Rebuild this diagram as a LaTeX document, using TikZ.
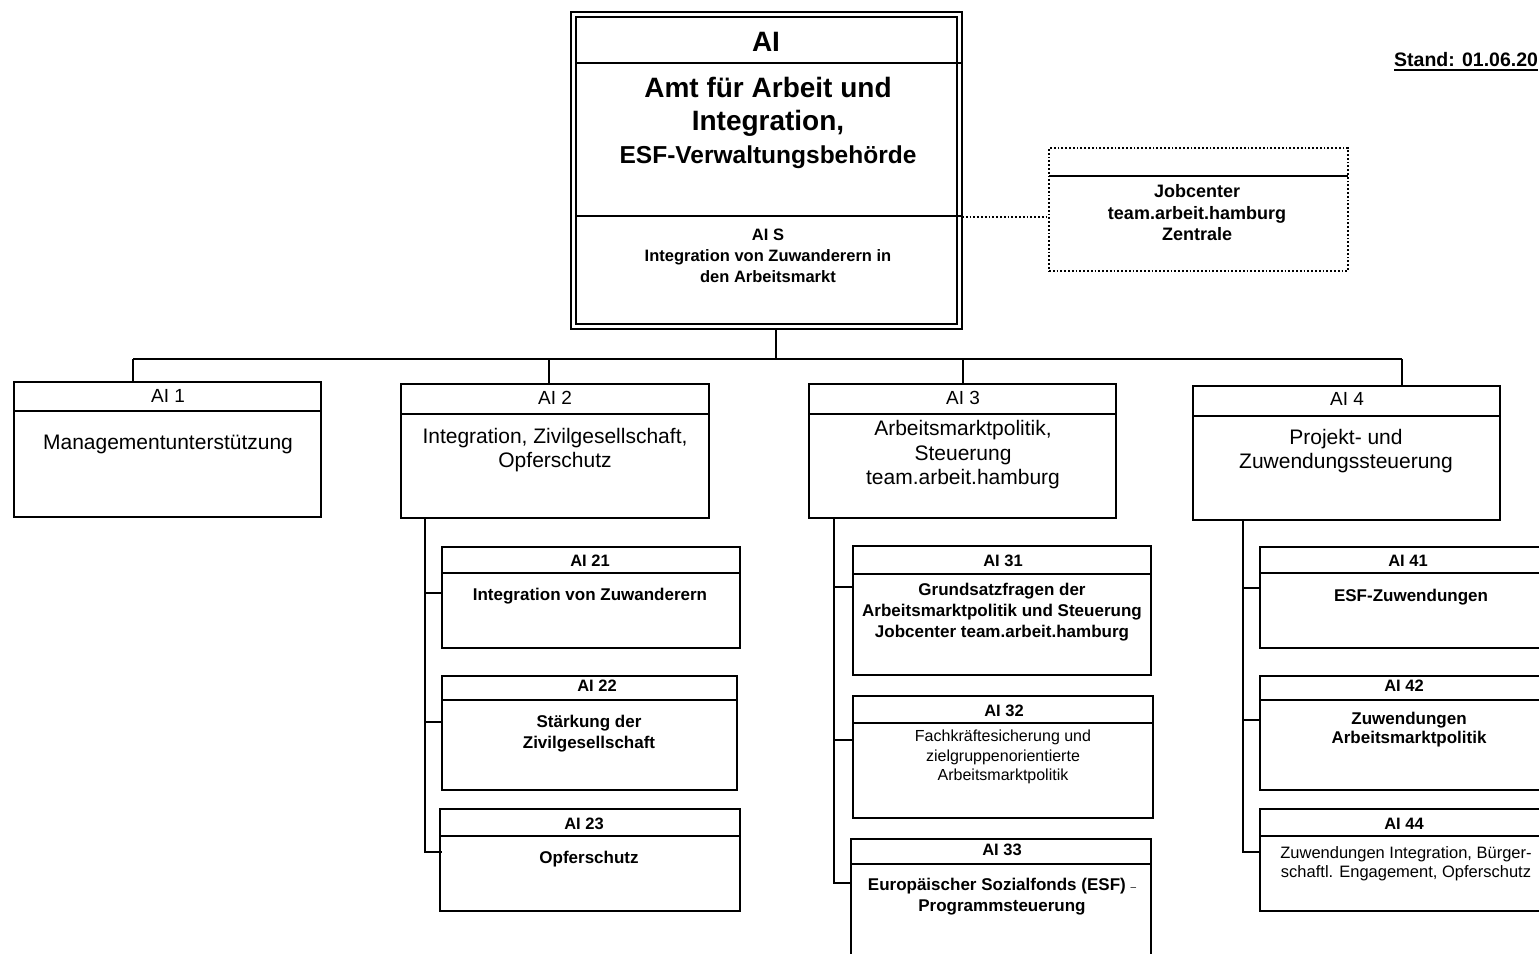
\documentclass[tikz,border=0pt]{standalone}
\usepackage{fontspec}
\setmainfont{Liberation Sans}
\newcommand{\orgbox}[6]{%
  \node[obox, minimum width=#4pt, minimum height=#5pt] (#1) at (#2,#3) {};
  \draw[sepline] ([yshift=-#6pt]#1.north west) -- ([yshift=-#6pt]#1.north east);
}
\tikzset{
  obox/.style={draw, rectangle, line width=1.6pt, inner sep=0pt, outer sep=0pt, anchor=north west},
  sepline/.style={line width=1.4pt},
  conn/.style={line width=1.6pt},
  dotc/.style={line width=1.8pt, dotted},
  hone/.style={font=\fontsize{19}{22}\selectfont, inner sep=0pt},
  bone/.style={font=\fontsize{21}{24.5}\selectfont, align=center, inner sep=0pt},
  htwo/.style={font=\bfseries\fontsize{16.5}{20}\selectfont, inner sep=0pt},
  btwo/.style={font=\bfseries\fontsize{17}{21}\selectfont, align=center, inner sep=0pt},
  btwor/.style={font=\fontsize{16}{19.5}\selectfont, align=center, inner sep=0pt},
}
\begin{document}
\begin{tikzpicture}[x=1pt, y=-1pt]
\useasboundingbox (0,0) rectangle (1539,953);
\fill[white] (0,0) rectangle (1539,953);
\clip (0,0) rectangle (1539,953);

% ---- main box
\node[draw, line width=2.2pt, minimum width=391pt, minimum height=317pt, anchor=north west, inner sep=0pt, outer sep=0pt] (ai) at (571,12) {};
\node[draw, line width=2pt, minimum width=381pt, minimum height=307pt, anchor=north west, inner sep=0pt, outer sep=0pt] (aiin) at (576,17) {};
\draw[sepline] ([yshift=-46pt]aiin.north west) -- ([yshift=-51pt]ai.north east);
\draw[sepline] ([yshift=-199pt]aiin.north west) -- ([yshift=-204pt]ai.north east);
\node[font=\bfseries\fontsize{28}{33}\selectfont, inner sep=0pt] (aititle) at (766,42) {AI};
\node[font=\bfseries\fontsize{28}{33}\selectfont, align=center, inner sep=0pt] (aibody) at (768,123)
  {Amt für Arbeit und\\Integration,\\{\fontsize{24.5}{33}\selectfont ESF-Verwaltungsbehörde}};
\node[font=\bfseries\fontsize{16.5}{21}\selectfont, align=center, inner sep=0pt] (ais) at (768,256)
  {AI S\\Integration von Zuwanderern in\\den Arbeitsmarkt};

% ---- Jobcenter
\node[draw, dotc, minimum width=299pt, minimum height=123pt, anchor=north west, inner sep=0pt, outer sep=0pt] (jc) at (1049,148) {};
\draw[sepline] ([yshift=-28pt]jc.north west) -- ([yshift=-28pt]jc.north east);
\node[font=\bfseries\fontsize{18}{21.5}\selectfont, align=center, inner sep=0pt] (jct) at (1197,213)
  {Jobcenter\\team.arbeit.hamburg\\Zentrale};
\draw[dotc] ([yshift=-205pt]ai.north east) -- ([yshift=-69pt]jc.north west);

% ---- Stand
\node[font=\bfseries\fontsize{19.5}{22}\selectfont, anchor=west, inner sep=0pt] (stand) at (1394,60) {Stand: 01.06.20};
\draw[line width=1.5pt] ([yshift=-3pt]stand.base west) -- ([yshift=-3pt]stand.base east);

% ---- level 1 boxes
\orgbox{ai1}{14}{382}{307}{135}{29}
\orgbox{ai2}{401}{384}{308}{134}{30}
\orgbox{ai3}{809}{384}{307}{134}{30}
\orgbox{ai4}{1193}{386}{307}{134}{30}
\node[hone] (ai1t) at (168,396) {AI 1};
\node[bone] (ai1b) at (168,444) {Managementunterstützung};
\node[hone] (ai2t) at (555,398) {AI 2};
\node[bone] (ai2b) at (555,450) {Integration, Zivilgesellschaft,\\Opferschutz};
\node[hone] (ai3t) at (963,398) {AI 3};
\node[bone] (ai3b) at (963,455) {Arbeitsmarktpolitik,\\Steuerung\\team.arbeit.hamburg};
\node[hone] (ai4t) at (1347,399) {AI 4};
\node[bone] (ai4b) at (1346,451) {Projekt- und\\Zuwendungssteuerung};

% ---- bus
\coordinate (top) at (776,359);
\coordinate (d1) at (133,359);
\coordinate (d2) at (549,359);
\coordinate (d3) at (963,359);
\coordinate (d4) at (1402,359);
\draw[conn] ([xshift=9.5pt]ai.south) -- (top);
\draw[conn] (d1) -- (d4);
\draw[conn] (d1) -- (d1 |- ai1.north);
\draw[conn] (d2) -- (d2 |- ai2.north);
\draw[conn] (d3) -- (d3 |- ai3.north);
\draw[conn] (d4) -- (d4 |- ai4.north);

% ---- level 2 boxes
\orgbox{ai21}{442}{547}{298}{101}{26}
\orgbox{ai22}{442}{676}{295}{114}{24}
\orgbox{ai23}{440}{809}{300}{102}{27}
\orgbox{ai31}{853}{546}{298}{129}{28}
\orgbox{ai32}{853}{696}{300}{122}{27}
\orgbox{ai33}{851}{839}{300}{130}{25}
\orgbox{ai41}{1260}{547}{300}{101}{26}
\orgbox{ai42}{1260}{676}{300}{114}{24}
\orgbox{ai44}{1260}{809}{300}{102}{27}

\node[htwo] (ai21t) at (590,561) {AI 21};
\node[btwo] (ai21b) at (590,596) {Integration von Zuwanderern};
\node[htwo] (ai22t) at (597,686) {AI 22};
\node[btwo] (ai22b) at (589,734) {Stärkung der\\Zivilgesellschaft};
\node[htwo] (ai23t) at (584,824) {AI 23};
\node[btwo] (ai23b) at (589,859) {Opferschutz};

\node[htwo] (ai31t) at (1003,561) {AI 31};
\node[btwo] (ai31b) at (1002,612) {Grundsatzfragen der\\Arbeitsmarktpolitik und Steuerung\\Jobcenter team.arbeit.hamburg};
\node[htwo] (ai32t) at (1004,711) {AI 32};
\node[btwor] (ai32b) at (1003,757) {Fachkräftesicherung und\\zielgruppenorientierte\\Arbeitsmarktpolitik};
\node[htwo] (ai33t) at (1002,850) {AI 33};
\node[btwo] (ai33b) at (1002,897) {Europäischer Sozialfonds (ESF) {\mdseries\fontsize{10}{10}\selectfont –}\\Programmsteuerung};

\node[htwo] (ai41t) at (1408,561) {AI 41};
\node[btwo] (ai41b) at (1411,597) {ESF-Zuwendungen};
\node[htwo] (ai42t) at (1404,686) {AI 42};
\node[btwo, font=\bfseries\fontsize{17}{19}\selectfont] (ai42b) at (1409,729.5) {Zuwendungen\\Arbeitsmarktpolitik};
\node[htwo] (ai44t) at (1404,824) {AI 44};
\node[btwor, font=\fontsize{16.5}{19}\selectfont] (ai44b) at (1406,863.5) {Zuwendungen Integration, Bürger-\\schaftl. Engagement, Opferschutz};

% ---- child connectors
\coordinate (v2) at (425,518);
\coordinate (t21) at (442,593);
\coordinate (t22) at (442,722);
\coordinate (t23) at (442,852);
\draw[conn] (v2 |- ai2.south) -- (v2 |- t23) -- (t23);
\draw[conn] (v2 |- t21) -- (t21);
\draw[conn] (v2 |- t22) -- (t22);

\coordinate (v3) at (834,518);
\coordinate (t31) at (853,587);
\coordinate (t32) at (853,740);
\coordinate (t33) at (851,883);
\draw[conn] (v3 |- ai3.south) -- (v3 |- t33) -- (t33);
\draw[conn] (v3 |- t31) -- (t31);
\draw[conn] (v3 |- t32) -- (t32);

\coordinate (v4) at (1243,520);
\coordinate (t41) at (1260,588);
\coordinate (t42) at (1260,720);
\coordinate (t44) at (1260,852);
\draw[conn] (v4 |- ai4.south) -- (v4 |- t44) -- (t44);
\draw[conn] (v4 |- t41) -- (t41);
\draw[conn] (v4 |- t42) -- (t42);
\end{tikzpicture}
\end{document}
